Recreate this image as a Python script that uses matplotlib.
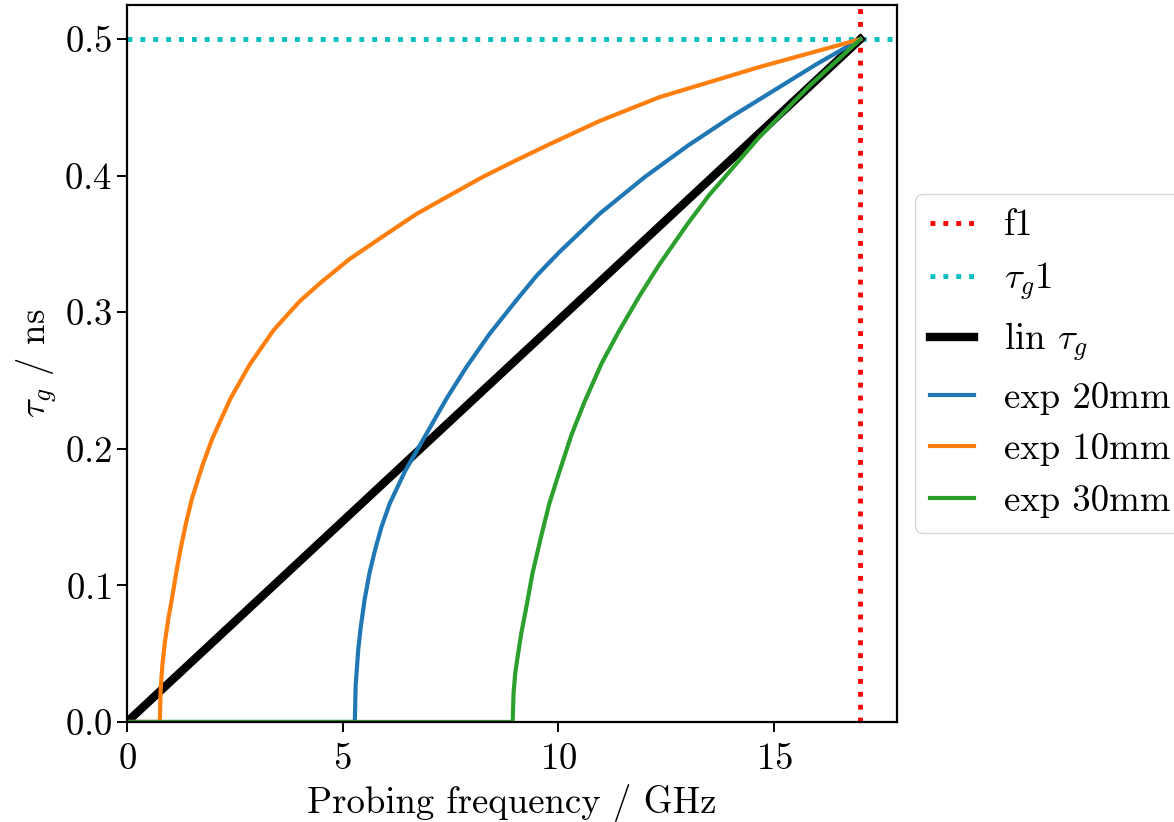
# Group delay tau_g versus probing frequency for different density profiles

import numpy as np
from matplotlib import pyplot as plt

plt.rcParams['font.family'] = 'cmr10'
plt.rcParams['mathtext.fontset'] = 'cm'
plt.rcParams['axes.formatter.use_mathtext'] = True
plt.rcParams['font.size'] = 26.5

f_cut = 17.0      # GHz
tau_cut = 0.5     # ns

# linear tau_g
f_lin = [0.0, 17.0]
tau_lin = [0.0, 0.5]

# exp 20mm
f_20 = [0.0, 5.28, 5.30, 5.36, 5.42, 5.51, 5.62, 5.75, 5.9, 6.09, 6.45, 6.85, 7.41,
        7.87, 8.4, 9.03, 9.5, 10.02, 10.95, 12.0, 13.0, 14.0, 15.0, 16.0, 17.0]
tau_20 = [0.0, 0.0, 0.027, 0.053, 0.07, 0.09, 0.109, 0.126, 0.143, 0.160, 0.184, 0.206, 0.237,
          0.260, 0.284, 0.309, 0.327, 0.344, 0.372, 0.399, 0.422, 0.443, 0.4625, 0.482, 0.5]

# exp 10mm
f_10 = [0.0, 0.76, 0.78, 0.82, 0.88, 0.96, 1.04, 1.15, 1.25, 1.37, 1.5, 1.75, 1.97, 2.4, 2.85,
        3.4, 4.0, 4.5, 5.16, 6.0, 6.71, 7.5, 8.24, 9.0, 9.79, 10.95, 12.34, 14.65, 17.0]
tau_10 = [0.0, 0.0, 0.024, 0.042, 0.059, 0.076, 0.09, 0.111, 0.128, 0.146, 0.163, 0.188, 0.207,
          0.237, 0.262, 0.287, 0.308, 0.322, 0.339, 0.357, 0.372, 0.386, 0.399, 0.411, 0.423,
          0.440, 0.4575, 0.4795, 0.5]

# exp 30mm
f_30 = [0.0, 8.94, 8.96, 9.0, 9.06, 9.14, 9.25, 9.40, 9.6, 9.79, 10.0, 10.3, 10.6,
        11.0, 11.4, 11.88, 12.34, 13.0, 13.5, 14.65, 15.81, 17.0]
tau_30 = [0.0, 0.0, 0.021, 0.036, 0.049, 0.065, 0.083, 0.109, 0.136, 0.160, 0.181, 0.210, 0.234,
          0.2625, 0.286, 0.312, 0.335, 0.365, 0.386, 0.428, 0.4655, 0.5]

fig = plt.figure(figsize=(11.74, 8.22), dpi=100)
ax = fig.add_axes([0.1082, 0.1217, 0.6559, 0.8722])

ax.axvline(f_cut, color='red', linestyle=':', linewidth=3.5, label='f1')
ax.axhline(tau_cut, color='c', linestyle=':', linewidth=3.5, label=r'$\tau_g$1')
ax.plot(f_lin, tau_lin, color='k', linewidth=6, label=r'lin $\tau_g$')
ax.plot(f_20, tau_20, color='C0', linewidth=3, label='exp 20mm')
ax.plot(f_10, tau_10, color='C1', linewidth=3, label='exp 10mm')
ax.plot(f_30, tau_30, color='C2', linewidth=3, label='exp 30mm')

ax.set_xlim(0, 17.85)
ax.set_ylim(0, 0.525)
ax.set_xticks([0, 5, 10, 15])
ax.set_yticks([0.0, 0.1, 0.2, 0.3, 0.4, 0.5])
ax.set_xlabel('Probing frequency / GHz', labelpad=6)
ax.set_ylabel(r'$\tau_g$ / ns')
ax.tick_params(length=7, width=1.4)
ax.tick_params(axis='x', pad=8)
for s in ax.spines.values():
    s.set_linewidth(1.6)

ax.legend(loc='center left', bbox_to_anchor=(1.0, 0.5), handlelength=1.2)

plt.savefig('out.png', dpi=100)
